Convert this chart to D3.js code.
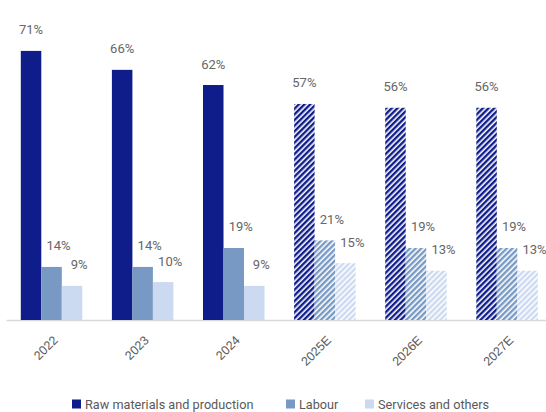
<!DOCTYPE html>
<html>
<head>
<meta charset="utf-8">
<script src="https://cdn.jsdelivr.net/npm/d3@7"></script>
<style>
  html, body { margin: 0; padding: 0; background: #fff; }
  svg { display: block; font-family: Roboto, "Noto Sans", sans-serif; }
</style>
</head>
<body>
<svg id="chart" width="546" height="412"></svg>
<script>
// Cost structure shares by year (actuals, then estimates)
const years = ["2022", "2023", "2024", "2025E", "2026E", "2027E"];
const seriesNames = ["Raw materials and production", "Labour", "Services and others"];
const rawMaterials = [71, 66, 62, 57, 56, 56];
const labour = [14, 14, 19, 21, 19, 19];
const services = [9, 10, 9, 15, 13, 13];
const estimated = [false, false, false, true, true, true];

const seriesValues = [rawMaterials, labour, services];
const colors = ["#0f1d8b", "#7799c3", "#cbd9f1"];

const svg = d3.select("#chart");
const baseY = 320;

const x0 = d3.scaleBand()
  .domain(years)
  .range([6, 552.6])
  .paddingInner(0.325)
  .paddingOuter(0.1625);

const x1 = d3.scaleBand()
  .domain(d3.range(seriesNames.length))
  .range([0, x0.bandwidth()])
  .padding(0);

const y = d3.scaleLinear()
  .domain([0, 75])
  .range([baseY, baseY - 75 * 3.79]);

// Diagonal stripe fills for estimated years
const defs = svg.append("defs");
colors.forEach((c, i) => {
  const p = defs.append("pattern")
    .attr("id", "hatch" + i)
    .attr("patternUnits", "userSpaceOnUse")
    .attr("width", 4)
    .attr("height", 4)
    .attr("patternTransform", "rotate(45)");
  p.append("rect").attr("width", 4).attr("height", 4).attr("fill", "#fff");
  p.append("rect").attr("width", 2.4).attr("height", 4).attr("fill", c);
});

// Baseline axis
const xAxis = d3.axisBottom(x0).tickSize(0).tickPadding(0);
const axisG = svg.append("g")
  .attr("transform", `translate(0,${baseY})`)
  .call(xAxis);
axisG.select(".domain")
  .attr("stroke", "#d9d9d9")
  .attr("stroke-width", 1.5);
axisG.selectAll(".tick text")
  .attr("fill", "#595959")
  .attr("font-size", 12.5)
  .attr("text-anchor", "end")
  .attr("dy", 0)
  .attr("transform", "translate(7,21) rotate(-45)");

// Bars
const groups = svg.append("g")
  .selectAll("g")
  .data(years)
  .join("g")
  .attr("transform", d => `translate(${x0(d)},0)`);

groups.each(function (yr, yi) {
  const g = d3.select(this);
  seriesValues.forEach((vals, si) => {
    const v = vals[yi];
    g.append("rect")
      .attr("x", x1(si))
      .attr("y", y(v))
      .attr("width", x1.bandwidth())
      .attr("height", baseY - y(v))
      .attr("fill", estimated[yi] ? `url(#hatch${si})` : colors[si]);
    g.append("text")
      .attr("x", x1(si) + x1.bandwidth() / 2 + (si === 0 ? 0 : 7))
      .attr("y", y(v) - 16.5)
      .attr("text-anchor", "middle")
      .attr("fill", "#666")
      .attr("font-size", 13)
      .text(v + "%");
  });
});

// Legend
const legendItems = [
  { x: 72, name: seriesNames[0], color: colors[0] },
  { x: 286, name: seriesNames[1], color: colors[1] },
  { x: 365, name: seriesNames[2], color: colors[2] }
];
const legend = svg.append("g");
legendItems.forEach(it => {
  legend.append("rect")
    .attr("x", it.x)
    .attr("y", 399.5)
    .attr("width", 9)
    .attr("height", 9)
    .attr("fill", it.color);
  legend.append("text")
    .attr("x", it.x + 13)
    .attr("y", 408.5)
    .attr("fill", "#595959")
    .attr("font-size", 12.7)
    .text(it.name);
});
</script>
</body>
</html>
